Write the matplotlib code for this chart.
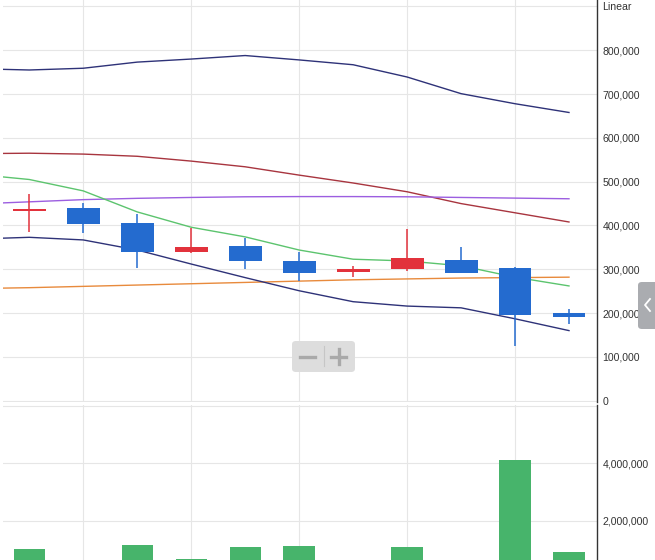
import matplotlib
matplotlib.use("Agg")
import matplotlib.pyplot as plt
from matplotlib.patches import FancyBboxPatch, Rectangle
from matplotlib.lines import Line2D
from matplotlib.ticker import FuncFormatter

plt.rcParams['font.family'] = ['Liberation Sans', 'DejaVu Sans']

# candles (index 1..11 visible)
idx = [1, 2, 3, 4, 5, 6, 7, 8, 9, 10, 11]
opens = [432000, 440000, 405000, 339000, 353000, 319000, 294000, 301000, 321000, 303000, 201000]
highs = [471000, 451000, 426000, 395000, 371000, 339000, 308000, 392000, 351000, 305000, 210000]
lows = [385000, 383000, 303000, 338000, 301000, 273000, 283000, 296000, 292000, 125000, 176000]
closes = [437000, 403000, 339000, 351000, 319000, 292000, 301000, 326000, 292000, 196000, 190000]
volumes = [1030000, 450000, 1170000, 690000, 1100000, 1140000, 400000, 1100000, 550000, 4100000, 930000]

# indicator lines (index 0 sits just off the left edge)
line_idx = [0, 1, 2, 3, 4, 5, 6, 7, 8, 9, 10, 11]
bb_upper = [758000, 755000, 759000, 773000, 780000, 788000, 778000, 767000, 739000, 701000, 678000, 658000]
bb_mid = [564000, 565000, 563000, 558000, 547000, 534000, 515000, 497000, 477000, 450000, 429000, 408000]
bb_lower = [369000, 373000, 367000, 344000, 312000, 281000, 251000, 226000, 216000, 212000, 187000, 160000]
ma_green = [517000, 505000, 479000, 431000, 396000, 374000, 344000, 323000, 319000, 308000, 282000, 262000]
ma_purple = [449000, 454000, 459000, 462000, 464000, 465500, 466000, 466000, 465500, 464000, 462500, 461000]
ma_orange = [256000, 258000, 261000, 264000, 267000, 270000, 273000, 276000, 278000, 280000, 281000, 282000]

price_ticks = [0, 100000, 200000, 300000, 400000, 500000, 600000, 700000, 800000, 900000]
vol_ticks = [2000000, 4000000]

W, H = 655, 560
fig = plt.figure(figsize=(W / 100, H / 100), dpi=100)


def box(x0, y0, x1, y1):
    return [x0 / W, 1 - y1 / H, (x1 - x0) / W, (y1 - y0) / H]


grid_c = '#e6e6e6'
txt_c = '#333333'
red = '#e2323c'
blue = '#246bcf'

ax = fig.add_axes(box(3, 0, 597, 402))
axv = fig.add_axes(box(3, 405, 597, 560))

for a in (ax, axv):
    a.set_xlim(0.513, 11.519)
    a.set_xticks([2, 4, 6, 8, 10])
    a.tick_params(axis='x', length=0, labelbottom=False)
    a.grid(True, color=grid_c, lw=0.8)
    a.set_axisbelow(True)
    for s in ('left', 'top', 'bottom'):
        a.spines[s].set_visible(False)
    a.spines['right'].set_color('#333333')
    a.spines['right'].set_linewidth(1.0)
    a.yaxis.tick_right()
    a.tick_params(axis='y', length=0, pad=4, labelsize=7.6, labelcolor=txt_c)

fmt = FuncFormatter(lambda v, p: f"{int(v):,}")

# price pane
ax.set_ylim(-3000, 914800)
ax.set_yticks(price_ticks)
ax.yaxis.set_major_formatter(FuncFormatter(lambda v, p: 'Linear' if v >= 900000 else f"{int(v):,}"))

ax.plot(line_idx, ma_orange, color='#e88a3c', lw=1.0)
ax.plot(line_idx, bb_upper, color='#2e3278', lw=1.0)
ax.plot(line_idx, bb_lower, color='#2e3278', lw=1.0)
ax.plot(line_idx, bb_mid, color='#a8353f', lw=1.0)
ax.plot(line_idx, ma_purple, color='#9c5ee0', lw=1.0)
ax.plot(line_idx, ma_green, color='#5cc46e', lw=1.0)

body_w = 0.61
for i, o, h, l, c in zip(idx, opens, highs, lows, closes):
    col = red if c >= o else blue
    ax.vlines(i, l, h, color=col, lw=1.1, zorder=4)
    bottom = min(o, c)
    height = max(abs(c - o), 3000)
    ax.add_patch(Rectangle((i - body_w / 2, bottom), body_w, height, color=col, zorder=5, lw=0))

# volume pane
axv.set_ylim(648000, 6020000)
axv.set_yticks(vol_ticks)
axv.yaxis.set_major_formatter(fmt)
axv.axhline(6000000, color=grid_c, lw=0.8, zorder=0)
axv.bar(idx, volumes, width=0.58, color='#47b46b', zorder=3)

# zoom buttons overlay
fig.patches.append(FancyBboxPatch((292 / W, 1 - 372 / H), 63 / W, 31 / H,
                                  boxstyle='round,pad=0,rounding_size=0.006',
                                  transform=fig.transFigure, fc='#dddddd', ec='none', zorder=10))
bc = '#a9a9a9'
fig.lines.append(Line2D([300 / W, 315 / W], [1 - 356.5 / H] * 2, transform=fig.transFigure, color=bc, lw=2.4, zorder=11))
fig.lines.append(Line2D([331 / W, 346 / W], [1 - 356.5 / H] * 2, transform=fig.transFigure, color=bc, lw=2.4, zorder=11))
fig.lines.append(Line2D([338.5 / W] * 2, [1 - 349 / H, 1 - 364 / H], transform=fig.transFigure, color=bc, lw=2.4, zorder=11))
fig.lines.append(Line2D([323.5 / W] * 2, [1 - 346 / H, 1 - 366 / H], transform=fig.transFigure, color='#c6c6c6', lw=0.8, zorder=11))

# side tab
fig.patches.append(FancyBboxPatch((638 / W, 1 - 329 / H), 22 / W, 47 / H,
                                  boxstyle='round,pad=0,rounding_size=0.006',
                                  transform=fig.transFigure, fc='#aaacb0', ec='none', zorder=10))
fig.lines.append(Line2D([650 / W, 645 / W, 650 / W], [1 - 299 / H, 1 - 305 / H, 1 - 311 / H],
                        transform=fig.transFigure, color='white', lw=1.3, zorder=11))

fig.savefig('out.png', dpi=100)
